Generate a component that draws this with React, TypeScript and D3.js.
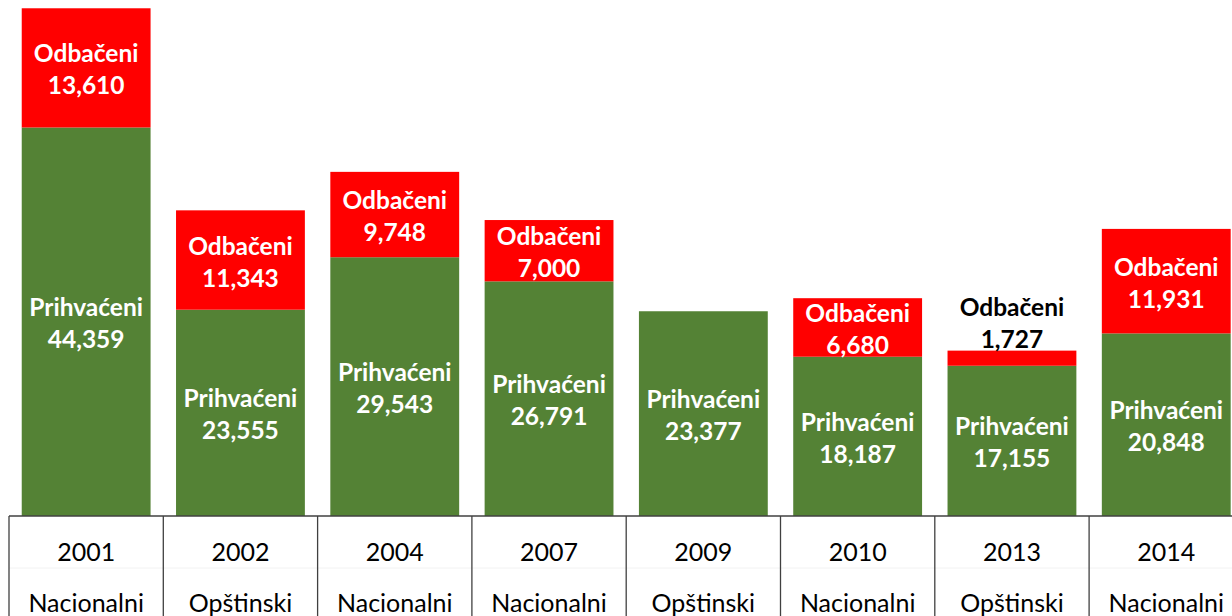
import React from 'react';
import * as d3 from 'd3';

const years = ['2001', '2002', '2004', '2007', '2009', '2010', '2013', '2014'];
const electionTypes = ['Nacionalni', 'Opštinski', 'Nacionalni', 'Nacionalni', 'Opštinski', 'Nacionalni', 'Opštinski', 'Nacionalni'];
const accepted = [44359, 23555, 29543, 26791, 23377, 18187, 17155, 20848];
const rejected = [13610, 11343, 9748, 7000, 0, 6680, 1727, 11931];

const acceptedLabel = 'Prihvaćeni';
const rejectedLabel = 'Odbačeni';

const GREEN = '#548235';
const RED = '#ff0000';
const FONT = 'Lato, "Open Sans", sans-serif';

const width = 1232;
const height = 616;
const baseY = 516;

const App: React.FC = () => {
  const rows = years.map((y, i) => ({ year: y, acc: accepted[i], rej: rejected[i] }));

  const stack = d3.stack<{ year: string; acc: number; rej: number }>().keys(['acc', 'rej']);
  const series = stack(rows);

  const x = d3.scaleBand<string>()
    .domain(years)
    .range([9, 9 + 8 * 154.3])
    .paddingInner(0.165)
    .paddingOuter(0.0825);

  const y = d3.scaleLinear()
    .domain([0, 58000])
    .range([baseY, 8]);

  const fmt = d3.format(',');
  const step = x.step();
  const left = x.range()[0];

  return (
    <svg width={width} height={height} style={{ position: 'absolute', left: 0, top: 0 }}>
      {/* bars */}
      {series.map((s, si) => (
        <g key={s.key} fill={si === 0 ? GREEN : RED}>
          {s.map((d, i) => {
            const h = y(d[0]) - y(d[1]);
            if (h <= 0) return null;
            return (
              <rect
                key={years[i]}
                x={x(years[i])}
                y={y(d[1])}
                width={x.bandwidth()}
                height={h}
              />
            );
          })}
        </g>
      ))}

      {/* labels */}
      {series.map((s, si) => (
        <g key={'lab-' + s.key} fontFamily={FONT} fontWeight="bold" fontSize={24.5} textAnchor="middle">
          {s.map((d, i) => {
            const v = d[1] - d[0];
            if (v <= 0) return null;
            const cx = (x(years[i]) || 0) + x.bandwidth() / 2;
            const top = y(d[1]);
            const bottom = y(d[0]);
            const fits = bottom - top > 30;
            const cy = fits ? (top + bottom) / 2 + 2 : top - 27;
            const color = fits ? '#ffffff' : '#000000';
            return (
              <text key={years[i]} fill={color}>
                <tspan x={cx} y={cy - 16 + 8.5}>{si === 0 ? acceptedLabel : rejectedLabel}</tspan>
                <tspan x={cx} y={cy + 16 + 8.5}>{fmt(v)}</tspan>
              </text>
            );
          })}
        </g>
      ))}

      {/* category axis as table */}
      <line x1={left} x2={width} y1={baseY} y2={baseY} stroke="#404040" strokeWidth={1.3} />
      <line x1={left} x2={width} y1={568} y2={568} stroke="#f2f2f2" strokeWidth={1} />
      {d3.range(years.length + 1).map(i => (
        <line
          key={'v' + i}
          x1={left + i * step}
          x2={left + i * step}
          y1={baseY}
          y2={height}
          stroke="#404040"
          strokeWidth={1.3}
        />
      ))}
      <g fontFamily={FONT} fontSize={25} textAnchor="middle" fill="#000">
        {years.map((yr, i) => {
          const cx = (x(yr) || 0) + x.bandwidth() / 2;
          return (
            <g key={'t' + yr}>
              <text x={cx} y={561}>{yr}</text>
              <text x={cx} y={612}>{electionTypes[i]}</text>
            </g>
          );
        })}
      </g>
    </svg>
  );
};

export default App;
